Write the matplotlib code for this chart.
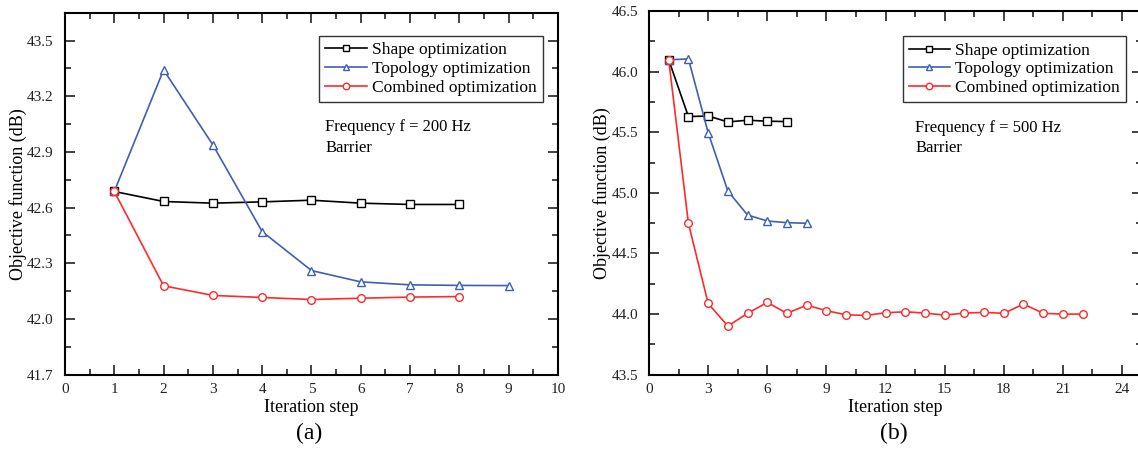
import numpy as np
import matplotlib.pyplot as plt
from matplotlib.ticker import MultipleLocator, FormatStrFormatter

plt.rcParams['font.family'] = ['Liberation Serif', 'DejaVu Serif']

# (a) f = 200 Hz
passos_shape_a = [1, 2, 3, 4, 5, 6, 7, 8]
shape_a = [42.687, 42.633, 42.624, 42.631, 42.640, 42.624, 42.617, 42.617]
passos_topo_a = [1, 2, 3, 4, 5, 6, 7, 8, 9]
topo_a = [42.687, 43.342, 42.938, 42.471, 42.261, 42.200, 42.184, 42.181, 42.180]
passos_comb_a = [1, 2, 3, 4, 5, 6, 7, 8]
comb_a = [42.687, 42.179, 42.127, 42.116, 42.105, 42.112, 42.118, 42.121]

# (b) f = 500 Hz
passos_shape_b = [1, 2, 3, 4, 5, 6, 7]
shape_b = [46.097, 45.629, 45.634, 45.585, 45.599, 45.591, 45.588]
passos_topo_b = [1, 2, 3, 4, 5, 6, 7, 8]
topo_b = [46.097, 46.105, 45.497, 45.015, 44.817, 44.768, 44.754, 44.749]
passos_comb_b = list(range(1, 23))
comb_b = [46.096, 44.748, 44.088, 43.901, 44.006, 44.096, 44.006, 44.074,
          44.028, 43.994, 43.989, 44.011, 44.019, 44.008, 43.992, 44.008,
          44.014, 44.006, 44.083, 44.006, 44.000, 44.000]

legendas = ['Shape optimization', 'Topology optimization', 'Combined optimization']
cores = ['black', '#3f5fb5', '#ff2a2a']
marcadores = ['s', '^', 'o']

fig = plt.figure(figsize=(11.38, 4.49), dpi=100)
ax_a = fig.add_axes([0.0571, 0.1655, 0.4332, 0.8062])
ax_b = fig.add_axes([0.5703, 0.1655, 0.4330, 0.8100])

def desenha(ax, dados, xlim, ylim, xmaj, xmin, ymaj, ymin, texto, legbox, txtpos):
    for (x, y), c, m, lab in zip(dados, cores, marcadores, legendas):
        ax.plot(x, y, color=c, marker=m, markersize=5.5, markerfacecolor='white',
                markeredgecolor=c, markeredgewidth=1.0, linewidth=1.2, label=lab)
    ax.set_xlim(*xlim)
    ax.set_ylim(*ylim)
    ax.xaxis.set_major_locator(MultipleLocator(xmaj))
    ax.xaxis.set_minor_locator(MultipleLocator(xmin))
    ax.yaxis.set_major_locator(MultipleLocator(ymaj))
    ax.yaxis.set_minor_locator(MultipleLocator(ymin))
    ax.yaxis.set_major_formatter(FormatStrFormatter('%.1f'))
    ax.tick_params(which='both', direction='in', top=True, right=True, labelsize=11,
                   width=1.2, pad=6, colors='#222222')
    ax.tick_params(which='major', length=7)
    ax.tick_params(which='minor', length=4)
    ax.tick_params(axis='y', pad=8)
    for s in ax.spines.values():
        s.set_linewidth(1.5)
    ax.set_xlabel('Iteration step', fontsize=13, labelpad=2)
    ax.set_ylabel('Objective function (dB)', fontsize=13)
    ax.yaxis.set_label_coords(-0.078, 0.5)
    leg = ax.legend(loc='upper left', bbox_to_anchor=legbox, fontsize=12.5,
                    frameon=True, fancybox=False, edgecolor='black',
                    handlelength=2.4, handletextpad=0.3, borderpad=0.35,
                    labelspacing=0.15, borderaxespad=0, markerscale=0.85)
    leg.get_frame().set_linewidth(1.0)
    ax.text(txtpos[0], txtpos[1], texto, transform=ax.transAxes, fontsize=12,
            va='top', ha='left', linespacing=1.35)

desenha(ax_a,
        [(passos_shape_a, shape_a), (passos_topo_a, topo_a), (passos_comb_a, comb_a)],
        (0, 10), (41.7, 43.65), 1, 0.5, 0.3, 0.15,
        'Frequency f = 200 Hz\nBarrier', (0.515, 0.935), (0.528, 0.705))
desenha(ax_b,
        [(passos_shape_b, shape_b), (passos_topo_b, topo_b), (passos_comb_b, comb_b)],
        (0, 25), (43.5, 46.5), 3, 1.5, 0.5, 0.25,
        'Frequency f = 500 Hz\nBarrier', (0.5145, 0.93), (0.54, 0.70))

fig.text(0.2715, 0.035, '(a)', fontsize=17, ha='center', va='center')
fig.text(0.785, 0.035, '(b)', fontsize=17, ha='center', va='center')

fig.savefig('out.png', dpi=100)
